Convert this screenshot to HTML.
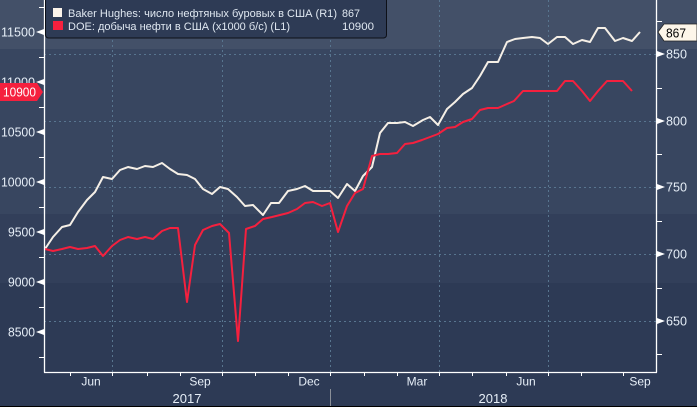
<!DOCTYPE html>
<html><head><meta charset="utf-8">
<style>
html,body{margin:0;padding:0;background:#2d3a55;}
svg{display:block;}
text{font-family:"Liberation Sans","Noto Sans CJK SC",sans-serif;}
</style></head>
<body>
<svg width="697" height="407" viewBox="0 0 697 407" xmlns="http://www.w3.org/2000/svg">
<!-- background bands -->
<rect x="0" y="0" width="697" height="49" fill="#435068"/>
<rect x="0" y="49" width="697" height="165" fill="#384660"/>
<rect x="0" y="214" width="697" height="69" fill="#323f5a"/>
<rect x="0" y="283" width="697" height="124" fill="#2d3a55"/>
<rect x="0" y="406" width="697" height="1" fill="#000"/>

<!-- grid -->
<g stroke="#58758f" stroke-width="1" stroke-dasharray="2,3" fill="none">
<line x1="112.5" y1="0" x2="112.5" y2="372"/>
<line x1="222.5" y1="0" x2="222.5" y2="372"/>
<line x1="330.5" y1="0" x2="330.5" y2="372"/>
<line x1="439.5" y1="0" x2="439.5" y2="372"/>
<line x1="548.5" y1="0" x2="548.5" y2="372"/>
<line x1="44" y1="54.5" x2="657" y2="54.5"/>
<line x1="44" y1="121.5" x2="657" y2="121.5"/>
<line x1="44" y1="187.5" x2="657" y2="187.5"/>
<line x1="44" y1="254.5" x2="657" y2="254.5"/>
<line x1="44" y1="321.5" x2="657" y2="321.5"/>
</g>

<!-- series -->
<polyline fill="none" stroke="#f5efe6" stroke-width="2" stroke-linejoin="round" points="45,249 53,237 62,227 70,225 78,212 87,200 95,192 103,177 112,179 120,170 128,167 137,169 145,166 153,167 162,163 170,169 178,174 187,175 195,179 203,189 212,194 220,187 228,189 237,197 245,206 253,205 263,215 271,203 279,203 288,191 297,189 305,186 313,191 322,191 330,191 338,198 347,184 355,191 363,176 372,167 380,133 388,123 397,123 405,122 413,126 423,120 430,117 438,125 447,109 455,102 463,94 472,88 480,76 488,62 498,62 507,42 515,39 523,38 532,37 540,38 548,44 557,37 565,37 573,44 582,40 590,42 598,28 605,28 615,41 623,38 632,41 640,32"/>
<polyline fill="none" stroke="#f5203e" stroke-width="2" stroke-linejoin="round" points="45,249 53,251 62,249 70,247 78,249 87,248 95,246 103,256 112,246 120,240 128,237 137,239 145,237 153,239 162,231 170,228 178,228 187,302 195,245 203,230 212,226 220,224 229,233 238,341 246,229 255,226 263,219 272,217 280,215 288,213 297,209 305,203 313,202 322,206 330,203 338,232 347,206 355,193 363,189 372,156 380,154 388,154 397,153 405,144 413,143 422,140 430,137 438,134 447,128 455,127 463,122 472,119 480,110 488,108 498,108 507,104 514,101 523,91 532,91 540,91 548,91 557,91 565,81 573,81 582,91 590,101 598,91 607,81 615,81 623,81 632,91"/>

<!-- axes -->
<g stroke="#ffffff" stroke-width="1.3" fill="none">
<line x1="44.5" y1="0" x2="44.5" y2="372.5"/>
<line x1="656.5" y1="0" x2="656.5" y2="372.5"/>
<line x1="44" y1="372.5" x2="657" y2="372.5"/>
</g>
<!-- bottom ticks -->
<g stroke="#ffffff" stroke-width="1">
<line x1="70.5" y1="372" x2="70.5" y2="376"/>
<line x1="112.5" y1="372" x2="112.5" y2="376"/>
<line x1="147.5" y1="372" x2="147.5" y2="376"/>
<line x1="180.5" y1="372" x2="180.5" y2="376"/>
<line x1="222.5" y1="372" x2="222.5" y2="376"/>
<line x1="255.5" y1="372" x2="255.5" y2="376"/>
<line x1="288.5" y1="372" x2="288.5" y2="376"/>
<line x1="330.5" y1="372" x2="330.5" y2="376"/>
<line x1="364.5" y1="372" x2="364.5" y2="376"/>
<line x1="397.5" y1="372" x2="397.5" y2="376"/>
<line x1="439.5" y1="372" x2="439.5" y2="376"/>
<line x1="472.5" y1="372" x2="472.5" y2="376"/>
<line x1="506.5" y1="372" x2="506.5" y2="376"/>
<line x1="548.5" y1="372" x2="548.5" y2="376"/>
<line x1="581.5" y1="372" x2="581.5" y2="376"/>
<line x1="623.5" y1="372" x2="623.5" y2="376"/>
<!-- left minor ticks -->
<line x1="39" y1="7.5" x2="44" y2="7.5"/>
<line x1="39" y1="57.5" x2="44" y2="57.5"/>
<line x1="39" y1="107.5" x2="44" y2="107.5"/>
<line x1="39" y1="157.5" x2="44" y2="157.5"/>
<line x1="39" y1="207.5" x2="44" y2="207.5"/>
<line x1="39" y1="257.5" x2="44" y2="257.5"/>
<line x1="39" y1="307.5" x2="44" y2="307.5"/>
<line x1="39" y1="357.5" x2="44" y2="357.5"/>
<!-- right minor ticks -->
<line x1="657" y1="21.5" x2="662" y2="21.5"/>
<line x1="657" y1="88.5" x2="662" y2="88.5"/>
<line x1="657" y1="154.5" x2="662" y2="154.5"/>
<line x1="657" y1="221.5" x2="662" y2="221.5"/>
<line x1="657" y1="288.5" x2="662" y2="288.5"/>
<line x1="657" y1="354.5" x2="662" y2="354.5"/>
</g>
<!-- left arrows -->
<g fill="#ffffff">
<polygon points="36,32 44,29 44,35"/>
<polygon points="36,82 44,79 44,85"/>
<polygon points="36,132 44,129 44,135"/>
<polygon points="36,182 44,179 44,185"/>
<polygon points="36,232 44,229 44,235"/>
<polygon points="36,282 44,279 44,285"/>
<polygon points="36,332 44,329 44,335"/>
<!-- right arrows -->
<polygon points="665,54 657,51 657,57"/>
<polygon points="665,121 657,118 657,124"/>
<polygon points="665,187 657,184 657,190"/>
<polygon points="665,254 657,251 657,257"/>
<polygon points="665,321 657,318 657,324"/>
</g>

<!-- left labels -->
<g fill="#e6eef7" font-size="13">
<text x="1" y="36.5" textLength="34" lengthAdjust="spacingAndGlyphs">11500</text>
<text x="1" y="86.5" textLength="34" lengthAdjust="spacingAndGlyphs">11000</text>
<text x="1" y="136.5" textLength="34" lengthAdjust="spacingAndGlyphs">10500</text>
<text x="1" y="186.5" textLength="34" lengthAdjust="spacingAndGlyphs">10000</text>
<text x="8" y="236.5" textLength="27" lengthAdjust="spacingAndGlyphs">9500</text>
<text x="8" y="286.5" textLength="27" lengthAdjust="spacingAndGlyphs">9000</text>
<text x="8" y="336.5" textLength="27" lengthAdjust="spacingAndGlyphs">8500</text>
</g>
<!-- right labels -->
<g fill="#e6eef7" font-size="13">
<text x="666" y="58.5" textLength="21" lengthAdjust="spacingAndGlyphs">850</text>
<text x="666" y="125.5" textLength="21" lengthAdjust="spacingAndGlyphs">800</text>
<text x="666" y="191.5" textLength="21" lengthAdjust="spacingAndGlyphs">750</text>
<text x="666" y="258.5" textLength="21" lengthAdjust="spacingAndGlyphs">700</text>
<text x="666" y="325.5" textLength="21" lengthAdjust="spacingAndGlyphs">650</text>
</g>

<!-- bottom labels -->
<g fill="#e6eef7" font-size="12" text-anchor="middle">
<text x="91" y="385.5">Jun</text>
<text x="200" y="385.5">Sep</text>
<text x="309" y="385.5">Dec</text>
<text x="417" y="385.5">Mar</text>
<text x="526" y="385.5">Jun</text>
<text x="640" y="385.5">Sep</text>
<text x="187" y="403" font-size="13">2017</text>
<text x="493" y="403" font-size="13">2018</text>
</g>
<line x1="330.5" y1="389" x2="330.5" y2="406" stroke="#8a8f98" stroke-width="1"/>

<!-- value labels -->
<polygon points="658,32 664,24 697,24 697,41 664,41" fill="#fdf6ea" stroke="#222" stroke-width="0.8"/>
<text x="666" y="37.5" font-size="13" fill="#000" textLength="20" lengthAdjust="spacingAndGlyphs">867</text>
<polygon points="0,83 37,83 43,92 37,101 0,101" fill="#f5203e"/>
<text x="3" y="96.5" font-size="13" fill="#fff" textLength="33" lengthAdjust="spacingAndGlyphs">10900</text>

<!-- legend -->
<rect x="45.5" y="-3" width="341" height="41" rx="3" fill="#2e3b55" stroke="#0d1018" stroke-width="1"/>
<rect x="53" y="8" width="9" height="9" fill="#fbf3ea"/>
<rect x="53" y="21" width="10" height="9" fill="#f5203e"/>
<g fill="#dfe7f0" font-size="11">
<text x="68" y="17" textLength="269" lengthAdjust="spacingAndGlyphs">Baker Hughes: число нефтяных буровых в США (R1)</text>
<text x="342" y="17" textLength="18" lengthAdjust="spacingAndGlyphs">867</text>
<text x="68" y="30" textLength="222" lengthAdjust="spacingAndGlyphs">DOE: добыча нефти в США (x1000 б/с) (L1)</text>
<text x="342" y="30" textLength="32" lengthAdjust="spacingAndGlyphs">10900</text>
</g>
</svg>
</body></html>
